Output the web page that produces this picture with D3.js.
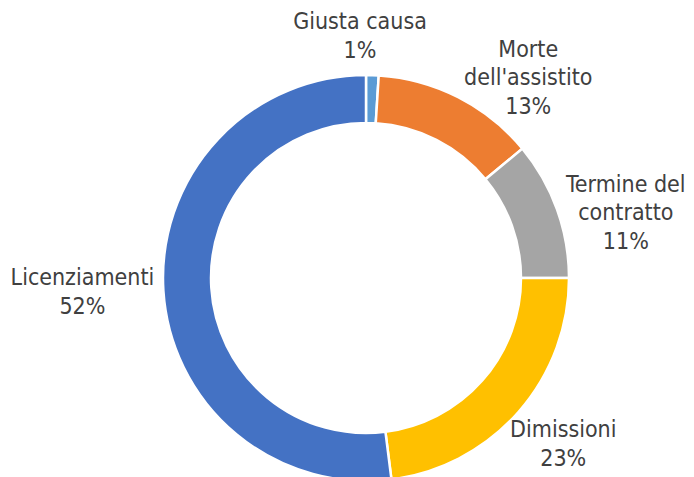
<!DOCTYPE html>
<html>
<head>
<meta charset="utf-8">
<script src="https://cdn.jsdelivr.net/npm/d3@7"></script>
<style>
  body { margin: 0; background: #fff; }
  svg text { font-family: "DejaVu Sans Condensed", "DejaVu Sans", sans-serif; font-stretch: condensed; fill: #404040; }
</style>
</head>
<body>
<svg id="chart" width="694" height="477"></svg>
<script>
var categories = ["Giusta causa", "Morte dell'assistito", "Termine del contratto", "Dimissioni", "Licenziamenti"];
var values = [1, 13, 11, 23, 52];
var colors = ["#5B9BD5", "#ED7D31", "#A5A5A5", "#FFC000", "#4472C4"];
// label lines as drawn in the reference
var labelLines = [
  ["Giusta causa", "1%"],
  ["Morte", "dell'assistito", "13%"],
  ["Termine del", "contratto", "11%"],
  ["Dimissioni", "23%"],
  ["Licenziamenti", "52%"]
];

var svg = d3.select("#chart"),
    cx = 366, cy = 278,
    outerR = 203, innerR = 155;

var pie = d3.pie().sort(null).value(function(d) { return d; });
var arc = d3.arc().innerRadius(innerR).outerRadius(outerR);

var g = svg.append("g").attr("transform", "translate(" + cx + "," + cy + ")");

var arcs = pie(values);

g.selectAll("path")
  .data(arcs)
  .enter().append("path")
    .attr("d", arc)
    .attr("fill", function(d, i) { return colors[i]; })
    .attr("stroke", "#fff")
    .attr("stroke-width", 2.5);

// label anchor: outside the ring along the slice's mid angle
var labelArc = d3.arc().innerRadius(outerR + 20).outerRadius(outerR + 20);
var lineH = 28.5;
// offsets so the blocks sit where the reference puts them
var nudge = [[-13, -19.5], [61, -2], [50, 10], [30, 18], [-61, -0.5]];

var labels = g.selectAll("text.lbl")
  .data(arcs)
  .enter().append("text")
    .attr("class", "lbl")
    .attr("text-anchor", "middle")
    .style("font-size", "23px")
    .attr("transform", function(d, i) {
      var c = labelArc.centroid(d);
      var n = labelLines[i].length;
      var x = c[0] + nudge[i][0];
      var y = c[1] + nudge[i][1] - (n - 1) * lineH / 2;
      return "translate(" + x + "," + y + ")";
    });

labels.each(function(d, i) {
  d3.select(this).selectAll("tspan")
    .data(labelLines[i])
    .enter().append("tspan")
      .attr("x", 0)
      .attr("dy", function(t, j) { return j ? lineH : 8; })
      .text(function(t) { return t; });
});
</script>
</body>
</html>
